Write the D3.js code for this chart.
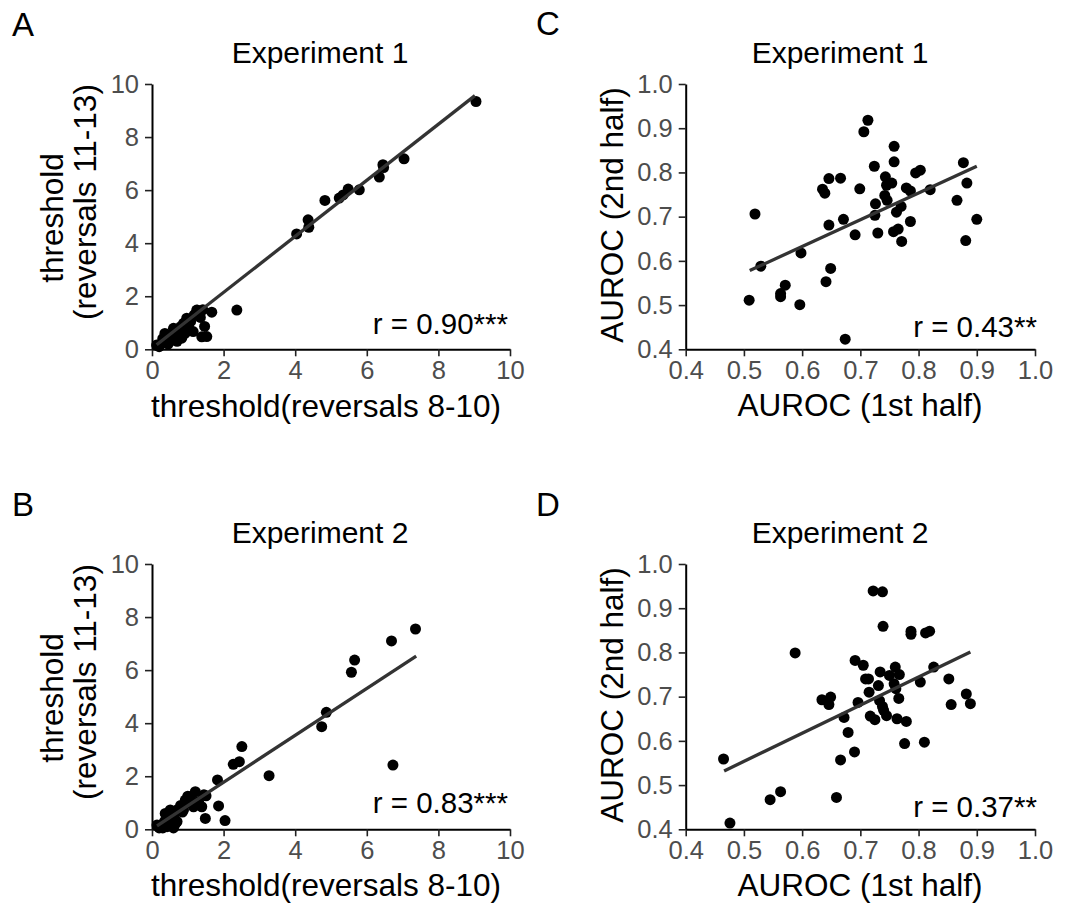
<!DOCTYPE html>
<html>
<head>
<meta charset="utf-8">
<script src="https://cdn.jsdelivr.net/npm/d3@7"></script>
<style>
  html, body { margin: 0; padding: 0; background: #fff; }
  svg { display: block; font-family: "Liberation Sans", Arial, sans-serif; }
</style>
</head>
<body>
<svg id="chart" width="1068" height="903"></svg>
<script>
// ---------- DATA ----------
const thresholdTicks = [0, 2, 4, 6, 8, 10];
const aurocTicks = [0.4, 0.5, 0.6, 0.7, 0.8, 0.9, 1.0];

const panelLetters = ["A", "B", "C", "D"];
const panelTitles = ["Experiment 1", "Experiment 2", "Experiment 1", "Experiment 2"];
const rLabels = ["r = 0.90***", "r = 0.83***", "r = 0.43**", "r = 0.37**"];
const thresholdXLabel = "threshold(reversals 8-10)";
const thresholdYLabel = ["threshold", "(reversals 11-13)"];
const aurocXLabel = "AUROC (1st half)";
const aurocYLabel = "AUROC (2nd half)";

// Panel A: Experiment 1 thresholds
const aX = [9.05, 7.04, 6.45, 6.47, 6.35, 5.79, 5.48, 5.34, 5.23, 4.83, 4.36, 4.38, 4.04, 2.37, 1.67, 1.42, 1.27, 1.47, 1.53, 1.39,
            0.13, 0.20, 0.27, 0.30, 0.36, 0.40, 0.45, 0.50, 0.52, 0.60, 0.62, 0.70, 0.72, 0.80, 0.83, 0.88, 0.92, 0.97, 1.02, 1.08, 1.15, 1.18, 1.25, 1.35];
const aY = [9.34, 7.18, 6.96, 6.85, 6.49, 6.01, 6.04, 5.82, 5.70, 5.61, 4.88, 4.60, 4.35, 1.48, 1.40, 1.49, 1.47, 0.86, 0.48, 0.47,
            0.16, 0.10, 0.23, 0.40, 0.60, 0.30, 0.20, 0.35, 0.55, 0.79, 0.45, 0.30, 0.70, 0.85, 0.42, 0.98, 0.60, 1.17, 0.90, 1.05, 0.67, 1.30, 1.48, 1.20];
const aFitX = [0.13, 9.02];
const aFitY = [0.17, 9.56];

// Panel B: Experiment 2 thresholds
const bX = [7.36, 6.69, 5.66, 5.57, 4.87, 4.74, 6.73, 2.51, 2.44, 2.27, 3.27, 1.83, 1.86, 2.04, 1.49, 1.51, 1.39,
            0.14, 0.20, 0.25, 0.30, 0.35, 0.37, 0.42, 0.45, 0.51, 0.52, 0.55, 0.60, 0.62, 0.65, 0.70, 0.72, 0.80, 0.85, 0.88, 0.93, 1.00, 1.05, 1.07, 1.16, 1.21, 1.30, 1.45];
const bY = [7.55, 7.10, 6.38, 5.92, 4.41, 3.87, 2.42, 3.12, 2.55, 2.45, 2.02, 1.86, 0.88, 0.33, 0.41, 1.26, 0.85,
            0.16, 0.05, 0.15, 0.05, 0.30, 0.60, 0.10, 0.45, 0.73, 0.20, 0.35, 0.05, 0.55, 0.20, 0.29, 0.75, 0.90, 0.65, 0.73, 1.10, 1.25, 1.00, 1.23, 0.85, 1.42, 1.05, 1.30];
const bFitX = [0.14, 7.38];
const bFitY = [0.13, 6.53];

// Panel C: Experiment 1 AUROC
const cX = [0.713, 0.706, 0.758, 0.758, 0.877, 0.724, 0.803, 0.795, 0.646, 0.666, 0.743, 0.754, 0.745, 0.883, 0.635, 0.639,
            0.699, 0.779, 0.786, 0.820, 0.742, 0.746, 0.866, 0.726, 0.770, 0.762, 0.725, 0.671, 0.900, 0.519, 0.646, 0.786,
            0.765, 0.757, 0.730, 0.691, 0.771, 0.881, 0.598, 0.529, 0.649, 0.641, 0.571, 0.563, 0.563, 0.509, 0.596, 0.674];
const cY = [0.918, 0.892, 0.859, 0.824, 0.822, 0.814, 0.805, 0.799, 0.786, 0.787, 0.790, 0.776, 0.771, 0.776, 0.762, 0.753,
            0.763, 0.765, 0.758, 0.761, 0.748, 0.737, 0.737, 0.729, 0.723, 0.710, 0.703, 0.694, 0.694, 0.706, 0.681, 0.689,
            0.672, 0.666, 0.663, 0.659, 0.644, 0.646, 0.618, 0.588, 0.583, 0.553, 0.545, 0.526, 0.519, 0.511, 0.501, 0.423];
const cFitX = [0.51, 0.90];
const cFitY = [0.578, 0.814];

// Panel D: Experiment 2 AUROC
const dX = [0.722, 0.738, 0.739, 0.787, 0.787, 0.812, 0.819, 0.588, 0.691, 0.705, 0.760, 0.826, 0.734, 0.750, 0.767, 0.709,
            0.714, 0.852, 0.803, 0.731, 0.758, 0.761, 0.715, 0.882, 0.634, 0.649, 0.646, 0.696, 0.766, 0.733, 0.738, 0.740,
            0.856, 0.889, 0.672, 0.717, 0.725, 0.745, 0.763, 0.779, 0.679, 0.690, 0.776, 0.810, 0.465, 0.666, 0.563, 0.545,
            0.659, 0.476];
const dY = [0.939, 0.937, 0.859, 0.848, 0.841, 0.844, 0.848, 0.799, 0.782, 0.771, 0.767, 0.767, 0.756, 0.748, 0.750, 0.740,
            0.740, 0.740, 0.733, 0.725, 0.729, 0.718, 0.710, 0.706, 0.693, 0.699, 0.682, 0.687, 0.696, 0.691, 0.678, 0.669,
            0.682, 0.684, 0.653, 0.656, 0.648, 0.657, 0.650, 0.644, 0.619, 0.575, 0.594, 0.597, 0.559, 0.557, 0.485, 0.467,
            0.472, 0.414];
const dFitX = [0.466, 0.889];
const dFitY = [0.532, 0.801];

// ---------- DRAW ----------
const svg = d3.select("#chart");
const tickGray = "#4d4d4d";

function drawPanel(p) {
  const x = d3.scaleLinear().domain(p.xDomain).range([p.left, p.right]);
  const y = d3.scaleLinear().domain(p.yDomain).range([p.bottom, p.top]);
  const g = svg.append("g");

  // axes
  const xAxis = d3.axisBottom(x).tickValues(p.ticks).tickFormat(p.fmt).tickSize(7).tickSizeOuter(0).tickPadding(5);
  const yAxis = d3.axisLeft(y).tickValues(p.ticks).tickFormat(p.fmt).tickSize(7).tickSizeOuter(0).tickPadding(6);
  const gx = g.append("g").attr("transform", `translate(0,${p.bottom})`).call(xAxis);
  const gy = g.append("g").attr("transform", `translate(${p.left},0)`).call(yAxis);
  [gx, gy].forEach(a => {
    a.select(".domain").attr("stroke", "#000").attr("stroke-width", 2);
    a.selectAll(".tick line").attr("stroke", "#222").attr("stroke-width", 1.6);
    a.selectAll(".tick text").attr("fill", tickGray).style("font-size", "25.5px")
      .style("font-family", '"Liberation Sans", Arial, sans-serif');
  });

  // points
  const pts = p.xs.map((v, i) => [v, p.ys[i]]);
  g.append("g").selectAll("circle").data(pts).join("circle")
    .attr("cx", d => x(d[0])).attr("cy", d => y(d[1])).attr("r", 5.5).attr("fill", "#000");

  // fit line
  const fit = p.fitX.map((v, i) => [v, p.fitY[i]]);
  g.append("path").datum(fit)
    .attr("d", d3.line().x(d => x(d[0])).y(d => y(d[1])))
    .attr("stroke", "#333").attr("stroke-width", 3.3).attr("fill", "none");

  // r label
  g.append("text").attr("x", p.rx).attr("y", p.ry).attr("text-anchor", "end")
    .style("font-size", "29.5px").attr("fill", "#000").text(p.r);

  // panel letter
  g.append("text").attr("x", p.letterX).attr("y", p.letterY)
    .style("font-size", "33px").attr("fill", "#000").text(p.letter);

  // title
  g.append("text").attr("x", p.titleX).attr("y", p.titleY).attr("text-anchor", "middle")
    .style("font-size", "30px").attr("fill", "#000").text(p.title);

  // x label
  g.append("text").attr("x", p.xlabX).attr("y", p.xlabY).attr("text-anchor", "middle")
    .style("font-size", "31.5px").attr("fill", "#000").text(p.xlab);

  // y label lines
  p.ylab.forEach((t, i) => {
    g.append("text")
      .attr("transform", `translate(${p.ylabPos[i][0]},${p.ylabPos[i][1]}) rotate(-90)`)
      .attr("text-anchor", "middle").style("font-size", "31.5px").attr("fill", "#000").text(t);
  });
}

const fmtInt = d3.format("d");
const fmt1 = d3.format(".1f");

drawPanel({ letter: panelLetters[0], title: panelTitles[0], r: rLabels[0],
  xs: aX, ys: aY, fitX: aFitX, fitY: aFitY, xDomain: [0, 10], yDomain: [0, 10], ticks: thresholdTicks, fmt: fmtInt,
  left: 152, right: 510, top: 84, bottom: 349.3,
  letterX: 12, letterY: 36, titleX: 320, titleY: 63, rx: 508, ry: 334,
  xlab: thresholdXLabel, xlabX: 326, xlabY: 417,
  ylab: thresholdYLabel, ylabPos: [[63, 218], [96, 202]] });

drawPanel({ letter: panelLetters[1], title: panelTitles[1], r: rLabels[1],
  xs: bX, ys: bY, fitX: bFitX, fitY: bFitY, xDomain: [0, 10], yDomain: [0, 10], ticks: thresholdTicks, fmt: fmtInt,
  left: 152, right: 510, top: 564, bottom: 829.3,
  letterX: 12, letterY: 516, titleX: 320, titleY: 543, rx: 508, ry: 813,
  xlab: thresholdXLabel, xlabX: 326, xlabY: 896,
  ylab: thresholdYLabel, ylabPos: [[63, 698], [96, 682]] });

drawPanel({ letter: panelLetters[2], title: panelTitles[2], r: rLabels[2],
  xs: cX, ys: cY, fitX: cFitX, fitY: cFitY, xDomain: [0.4, 1.0], yDomain: [0.4, 1.0], ticks: aurocTicks, fmt: fmt1,
  left: 685.7, right: 1035, top: 84, bottom: 349.3,
  letterX: 536, letterY: 35, titleX: 840, titleY: 63, rx: 1037, ry: 337,
  xlab: aurocXLabel, xlabX: 860, xlabY: 416,
  ylab: [aurocYLabel], ylabPos: [[623, 215]] });

drawPanel({ letter: panelLetters[3], title: panelTitles[3], r: rLabels[3],
  xs: dX, ys: dY, fitX: dFitX, fitY: dFitY, xDomain: [0.4, 1.0], yDomain: [0.4, 1.0], ticks: aurocTicks, fmt: fmt1,
  left: 685.7, right: 1035, top: 564, bottom: 829.3,
  letterX: 536, letterY: 516, titleX: 840, titleY: 543, rx: 1037, ry: 817,
  xlab: aurocXLabel, xlabX: 860, xlabY: 896,
  ylab: [aurocYLabel], ylabPos: [[623, 695]] });
</script>
</body>
</html>
